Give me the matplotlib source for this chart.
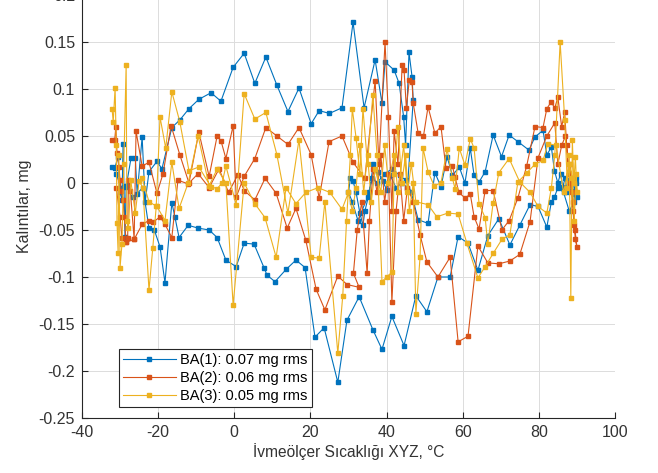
import numpy as np
import matplotlib.pyplot as plt

plt.rcParams["font.family"] = ["Liberation Sans", "DejaVu Sans"]
plt.rcParams["axes.unicode_minus"] = False

# (sicaklik degC, kalinti mg), in drawing order
ba1_points = [
    (-32.1, 0.017), (-31.4, 0.016), (-30.5, 0.028), (-30.0, -0.010), (-29.5, -0.018),
    (-29.2, 0.041), (-28.7, -0.057), (-28.4, -0.004), (-27.1, 0.027), (-26.0, 0.027),
    (-25.5, -0.012), (-24.2, 0.049), (-23.4, -0.020), (-22.4, 0.012), (-20.3, 0.023),
    (-19.0, 0.015), (-16.4, 0.059), (-14.3, 0.067), (-11.9, 0.079), (-9.3, 0.089),
    (-6.1, 0.096), (-3.5, 0.087), (-0.3, 0.123), (2.6, 0.138), (5.4, 0.106),
    (8.3, 0.134), (11.2, 0.104), (14.1, 0.076), (17.0, 0.101), (20.2, 0.063),
    (22.3, 0.077), (25.0, 0.074), (28.3, 0.080), (31.2, 0.171), (34.1, 0.080),
    (37.0, 0.131), (38.8, 0.085), (39.6, 0.129), (42.0, 0.120), (43.3, 0.106),
    (44.5, 0.070), (45.0, 0.040), (45.9, 0.139), (46.7, 0.113), (47.0, 0.088),
    (45.5, -0.005), (44.0, 0.000), (42.5, -0.005), (41.0, 0.008), (40.0, -0.007),
    (39.0, 0.002), (37.8, 0.012), (36.5, 0.020), (35.5, -0.010), (34.3, -0.030),
    (33.8, -0.045), (33.0, -0.032), (32.0, -0.010), (31.2, 0.002), (30.5, 0.005),
    (30.0, -0.010), (31.0, -0.020), (32.5, -0.040), (35.0, -0.015), (36.3, 0.005),
    (37.5, 0.000), (39.5, 0.010), (41.5, 0.015), (43.5, 0.008), (45.0, 0.003),
    (46.5, -0.010), (48.3, -0.039), (50.9, -0.043), (52.7, 0.011), (54.3, -0.004),
    (55.9, 0.028), (57.3, 0.008), (59.1, 0.017), (60.6, 0.000), (62.0, 0.037),
    (63.0, 0.008), (64.3, 0.001), (65.9, 0.012), (68.0, 0.051), (70.2, 0.028),
    (72.2, 0.051), (74.5, 0.044), (77.4, 0.035), (79.0, 0.049), (81.1, 0.056),
    (82.1, 0.030), (83.3, 0.038), (84.1, 0.013), (85.0, 0.000), (85.7, 0.010),
    (86.3, -0.004), (86.9, 0.005), (87.5, -0.010), (88.0, 0.003), (88.5, -0.008),
    (89.0, 0.004), (89.4, -0.012), (89.7, 0.000), (90.0, -0.015), (89.8, 0.005),
    (89.2, -0.020), (88.0, -0.030), (86.5, -0.010), (85.0, -0.005), (84.1, -0.015),
    (83.3, -0.020), (82.1, -0.047), (79.8, -0.025), (77.7, -0.023), (75.0, -0.045),
    (72.4, -0.066), (69.5, -0.038), (66.6, -0.056), (64.0, -0.093), (61.4, -0.064),
    (58.8, -0.057), (56.7, -0.100), (53.5, -0.100), (50.6, -0.137), (47.7, -0.120),
    (44.6, -0.173), (41.4, -0.142), (38.8, -0.177), (36.4, -0.156), (32.8, -0.121),
    (29.6, -0.146), (27.2, -0.212), (23.6, -0.154), (21.2, -0.164), (18.6, -0.090),
    (16.2, -0.082), (13.6, -0.092), (10.7, -0.105), (8.6, -0.098), (7.8, -0.090),
    (5.2, -0.065), (2.6, -0.064), (0.5, -0.089), (-2.2, -0.082), (-4.5, -0.058),
    (-6.6, -0.050), (-9.5, -0.048), (-12.1, -0.045), (-14.5, -0.058), (-15.6, -0.036),
    (-16.4, -0.021), (-18.2, -0.106), (-19.5, -0.068), (-21.0, -0.050), (-22.4, -0.048),
    (-24.0, -0.005), (-26.5, -0.015), (-28.0, 0.000), (-29.8, -0.005), (-31.0, 0.010),
]

ba2_points = [
    (-32.1, 0.046), (-31.4, 0.046), (-31.1, 0.060), (-30.8, 0.032), (-30.3, 0.017),
    (-30.0, 0.003), (-29.7, -0.008), (-29.2, -0.018), (-28.9, -0.036), (-28.4, -0.063),
    (-28.0, -0.058), (-27.8, 0.003), (-27.3, -0.008), (-26.3, -0.060), (-25.8, 0.055),
    (-24.2, 0.018), (-22.4, 0.022), (-20.3, -0.011), (-18.7, 0.010), (-16.6, 0.061),
    (-14.3, 0.030), (-11.9, 0.000), (-9.3, 0.054), (-6.6, 0.007), (-4.5, 0.050),
    (-3.5, 0.045), (-2.2, 0.026), (-0.3, 0.061), (0.5, -0.015), (2.6, 0.007),
    (5.4, 0.026), (8.3, 0.059), (11.2, 0.050), (14.1, 0.041), (17.0, 0.059),
    (20.2, 0.030), (22.3, -0.016), (24.9, 0.044), (28.3, 0.050), (31.2, 0.022),
    (34.3, 0.005), (37.0, 0.109), (38.0, 0.020), (39.6, 0.150), (40.5, 0.070),
    (41.4, -0.030), (42.0, 0.055), (43.0, 0.020), (44.1, 0.126), (44.6, 0.120),
    (45.2, 0.080), (46.0, 0.110), (46.7, 0.107), (47.0, 0.085), (48.3, 0.053),
    (49.7, 0.050), (50.9, 0.081), (52.7, 0.053), (54.3, 0.060), (55.6, 0.016),
    (57.3, 0.018), (58.0, 0.006), (59.0, -0.010), (60.6, -0.016), (62.0, -0.012),
    (63.0, -0.036), (64.3, -0.049), (65.9, -0.008), (68.0, -0.008), (70.3, -0.050),
    (72.2, -0.040), (74.5, -0.016), (76.8, 0.018), (79.0, 0.060), (81.1, 0.059),
    (82.1, 0.079), (83.2, 0.086), (84.2, 0.080), (85.0, 0.091), (86.0, 0.060),
    (86.8, 0.075), (87.3, 0.040), (87.8, 0.010), (88.2, 0.020), (88.6, -0.010),
    (89.0, -0.030), (89.3, -0.045), (89.6, -0.060), (90.0, -0.068), (89.5, -0.050),
    (89.0, -0.020), (88.3, 0.000), (87.0, 0.050), (86.0, 0.040), (85.0, 0.020),
    (84.2, 0.064), (82.1, 0.050), (79.8, 0.027), (77.7, -0.041), (75.0, -0.076),
    (72.4, -0.083), (69.5, -0.086), (66.6, -0.085), (64.0, -0.067), (61.4, -0.163),
    (58.8, -0.169), (56.7, -0.079), (53.5, -0.100), (50.6, -0.084), (48.8, -0.055),
    (47.0, -0.020), (45.5, -0.005), (44.5, -0.040), (43.5, 0.010), (42.5, -0.030),
    (41.4, -0.127), (40.5, 0.010), (39.5, -0.020), (38.5, 0.030), (37.5, -0.010),
    (36.5, 0.015), (35.5, -0.040), (34.9, -0.096), (33.5, -0.020), (32.3, -0.050),
    (31.3, -0.096), (32.8, -0.111), (29.6, -0.108), (27.2, -0.099), (23.8, -0.135),
    (21.5, -0.113), (18.8, -0.061), (16.2, -0.027), (13.9, -0.048), (11.0, -0.011),
    (8.1, 0.005), (5.4, -0.018), (2.6, -0.008), (1.0, 0.009), (-1.5, -0.010),
    (-4.0, 0.015), (-6.6, -0.005), (-9.5, 0.010), (-12.1, -0.001), (-14.8, 0.003),
    (-16.4, -0.058), (-18.2, -0.044), (-19.5, -0.036), (-21.4, -0.042), (-22.4, -0.040),
    (-24.2, -0.044), (-26.3, -0.060), (-28.4, -0.063), (-29.5, -0.058), (-30.0, -0.036),
    (-31.0, -0.005),
]

ba3_points = [
    (-32.1, 0.079), (-31.8, 0.065), (-31.3, 0.101), (-31.0, 0.040), (-30.8, -0.043),
    (-30.5, -0.075), (-30.3, 0.030), (-30.0, -0.090), (-29.5, -0.065), (-29.0, 0.020),
    (-28.4, 0.126), (-28.2, -0.040), (-27.8, -0.048), (-27.2, 0.003), (-26.0, -0.032),
    (-25.0, 0.002), (-24.0, -0.005), (-22.4, -0.114), (-21.4, -0.069), (-20.5, -0.025),
    (-19.5, 0.070), (-18.0, 0.037), (-16.4, 0.097), (-14.3, 0.065), (-11.9, 0.013),
    (-9.3, 0.017), (-6.1, -0.004), (-4.5, -0.006), (-3.2, 0.000), (-2.2, 0.018),
    (0.5, -0.023), (2.6, 0.095), (5.4, 0.068), (8.3, 0.075), (11.2, 0.030),
    (14.1, -0.032), (17.0, 0.046), (20.2, -0.079), (22.3, -0.080), (23.8, -0.020),
    (27.2, -0.181), (28.5, -0.120), (29.5, -0.040), (30.5, 0.030), (31.0, 0.079),
    (32.0, 0.048), (33.0, 0.010), (33.8, 0.079), (35.0, 0.020), (36.4, 0.094),
    (37.5, 0.030), (38.8, -0.105), (40.0, -0.100), (41.4, -0.095), (42.0, 0.010),
    (43.0, 0.060), (44.0, 0.000), (45.0, 0.030), (46.0, -0.030), (47.0, 0.000),
    (47.7, -0.139), (48.8, -0.079), (49.6, 0.037), (50.9, 0.012), (52.5, -0.003),
    (54.3, 0.000), (55.9, 0.036), (57.3, 0.005), (58.0, -0.006), (59.1, 0.037),
    (60.6, 0.019), (62.0, 0.047), (63.0, 0.037), (64.3, -0.022), (65.9, -0.037),
    (66.6, -0.065), (68.0, -0.021), (69.5, 0.011), (72.2, 0.026), (75.0, 0.001),
    (77.7, -0.010), (79.8, -0.025), (82.1, -0.032), (83.3, -0.005), (84.2, 0.030),
    (85.6, 0.150), (86.8, 0.067), (87.5, -0.005), (88.0, 0.030), (88.4, -0.122),
    (88.8, 0.046), (89.2, 0.000), (89.6, 0.028), (90.0, -0.010), (89.8, 0.010),
    (89.3, -0.040), (88.8, 0.005), (88.0, 0.020), (86.5, -0.010), (84.5, 0.040),
    (82.4, 0.042), (81.1, 0.024), (79.0, 0.020), (76.9, 0.011), (74.5, 0.001),
    (72.4, -0.055), (70.3, -0.060), (68.0, -0.075), (65.9, -0.089), (64.0, -0.101),
    (61.1, -0.064), (58.8, -0.033), (56.1, -0.032), (53.2, -0.036), (50.9, -0.023),
    (47.7, -0.020), (46.5, 0.020), (45.5, -0.010), (44.5, 0.040), (43.0, -0.010),
    (42.0, 0.030), (40.5, 0.000), (39.5, 0.040), (38.5, -0.010), (37.0, 0.015),
    (36.0, -0.020), (35.0, 0.030), (34.0, -0.010), (33.0, 0.040), (32.0, -0.005),
    (31.0, -0.030), (30.0, -0.010), (28.3, -0.028), (25.1, -0.010), (22.0, -0.005),
    (18.8, -0.010), (16.2, -0.022), (13.6, -0.005), (11.0, -0.079), (8.1, -0.037),
    (5.4, -0.022), (2.6, 0.000), (-0.3, -0.130), (-2.2, 0.000), (-4.5, 0.015),
    (-6.6, -0.003), (-9.5, 0.050), (-12.1, 0.000), (-14.5, -0.027), (-16.4, 0.022),
    (-18.2, -0.040), (-20.3, -0.025), (-22.4, -0.020), (-24.2, 0.005),
]

series = [
    (ba1_points, "BA(1): 0.07 mg rms", "#0072BD"),
    (ba2_points, "BA(2): 0.06 mg rms", "#D95319"),
    (ba3_points, "BA(3): 0.05 mg rms", "#EDB120"),
]

x_ticks = [-40, -20, 0, 20, 40, 60, 80, 100]
y_ticks = [-0.25, -0.2, -0.15, -0.1, -0.05, 0, 0.05, 0.1, 0.15, 0.2]

fig = plt.figure(figsize=(6.58, 4.73), dpi=100)
ax = fig.add_axes([0.1246, 0.1163, 0.8100, 0.8943])

for pts, label, color in series:
    arr = np.array(pts)
    ax.plot(arr[:, 0], arr[:, 1], color=color, lw=0.8, marker="s",
            ms=2.2, mec=color, mfc=color, label=label)

ax.set_xlim(-40, 100)
ax.set_ylim(-0.25, 0.2)
ax.set_xticks(x_ticks)
ax.set_yticks(y_ticks)
ax.set_yticklabels([f"{v:g}" for v in y_ticks])

ax.grid(True, color="#dcdcdc", lw=0.7)
ax.set_axisbelow(True)
ax.spines["top"].set_visible(False)
ax.spines["right"].set_visible(False)
for s in ["left", "bottom"]:
    ax.spines[s].set_color("#262626")
    ax.spines[s].set_linewidth(0.8)
ax.tick_params(direction="in", length=4, width=0.8, colors="#262626",
               labelsize=11.5, pad=5)
for lab in ax.get_xticklabels() + ax.get_yticklabels():
    lab.set_color("#333333")

ax.set_xlabel("İvmeölçer Sıcaklığı XYZ, °C", fontsize=11.2, color="#333333", labelpad=2)
ax.set_ylabel("Kalıntılar, mg", fontsize=11.5, color="#333333", labelpad=5)

leg = ax.legend(loc="lower left", bbox_to_anchor=(0.069, 0.026), borderaxespad=0,
                fancybox=False, framealpha=1, edgecolor="#262626", fontsize=10.5,
                handlelength=3.6, borderpad=0.3, labelspacing=0.25, handletextpad=0.3)
leg.get_frame().set_linewidth(0.8)

fig.savefig("out.png", dpi=100)
